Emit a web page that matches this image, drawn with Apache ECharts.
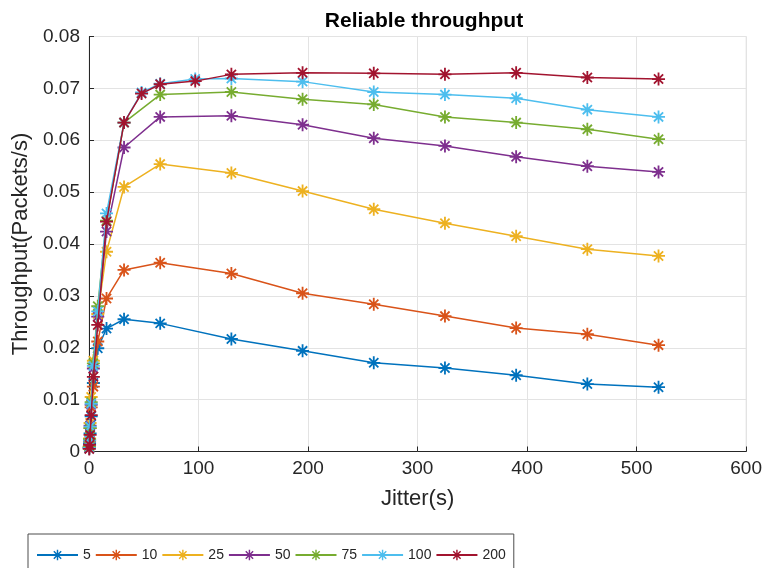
<!DOCTYPE html>
<html>
<head>
<meta charset="utf-8">
<title>Reliable throughput</title>
<script src="https://cdn.jsdelivr.net/npm/echarts@6/dist/echarts.min.js"></script>
<style>
  html, body { margin: 0; padding: 0; background: #fff; }
  #chart { width: 765px; height: 568px; }
</style>
</head>
<body>
<div id="chart"></div>
<script>
// Jitter values (s) sampled for each run
const jitterCoarse = [0.25, 0.5, 1, 2, 4, 8, 16, 32, 65, 130, 195, 260, 325, 390, 455, 520];
const jitterFine   = [0.25, 0.5, 1, 2, 4, 8, 16, 32, 48, 65, 97, 130, 195, 260, 325, 390, 455, 520];

// Legend names (window size)
const seriesNames = ['5', '10', '25', '50', '75', '100', '200'];

// Reliable throughput (packets/s)
const tp5   = [0.0006, 0.0016, 0.0035, 0.0068, 0.0132, 0.0199, 0.0237, 0.0255, 0.0247, 0.0217, 0.0194, 0.0171, 0.0161, 0.0147, 0.0130, 0.0124];
const tp10  = [0.0007, 0.0020, 0.0045, 0.0085, 0.0125, 0.0212, 0.0295, 0.0350, 0.0364, 0.0343, 0.0305, 0.0284, 0.0261, 0.0238, 0.0226, 0.0205];
const tp25  = [0.0009, 0.0025, 0.0055, 0.0105, 0.0175, 0.0265, 0.0385, 0.0510, 0.0554, 0.0537, 0.0502, 0.0467, 0.0440, 0.0415, 0.0390, 0.0377];
const tp50  = [0.0008, 0.0022, 0.0050, 0.0090, 0.0160, 0.0260, 0.0424, 0.0586, 0.0645, 0.0647, 0.0630, 0.0604, 0.0589, 0.0568, 0.0550, 0.0539];
const tp75  = [0.0010, 0.0024, 0.0045, 0.0095, 0.0170, 0.0280, 0.0445, 0.0634, 0.0688, 0.0693, 0.0679, 0.0669, 0.0645, 0.0634, 0.0621, 0.0602];
const tp100 = [0.0007, 0.0021, 0.0048, 0.0092, 0.0165, 0.0270, 0.0459, 0.0634, 0.0692, 0.0709, 0.0718, 0.0719, 0.0713, 0.0693, 0.0688, 0.0681, 0.0659, 0.0645];
const tp200 = [0.0005, 0.0013, 0.0032, 0.0070, 0.0144, 0.0244, 0.0443, 0.0634, 0.0690, 0.0708, 0.0714, 0.0727, 0.0730, 0.0729, 0.0727, 0.0730, 0.0721, 0.0718];

const seriesValues = [tp5, tp10, tp25, tp50, tp75, tp100, tp200];
const seriesJitter = [jitterCoarse, jitterCoarse, jitterCoarse, jitterCoarse, jitterCoarse, jitterFine, jitterFine];

// Axis ticks
const xTicks = { min: 0, max: 600, step: 100 };
const yTicks = { min: 0, max: 0.08, step: 0.01 };

const palette = ['#0072BD', '#D95319', '#EDB120', '#7E2F8E', '#77AC30', '#4DBEEE', '#A2142F'];

// Eight-armed asterisk marker
const asterisk = 'path://M-0.7,-5 L0.7,-5 L0.7,5 L-0.7,5 Z ' +
  'M-5,-0.7 L5,-0.7 L5,0.7 L-5,0.7 Z ' +
  'M-3.04,-4.03 L4.03,3.04 L3.04,4.03 L-4.03,-3.04 Z ' +
  'M3.04,-4.03 L4.03,-3.04 L-3.04,4.03 L-4.03,3.04 Z';

const axisColor = '#262626';
const gridColor = '#e3e3e3';
const font = 'Liberation Sans, Arial, Helvetica, sans-serif';

const series = seriesNames.map((name, i) => ({
  name: name,
  type: 'line',
  data: seriesJitter[i].map((x, k) => [x, seriesValues[i][k]]),
  symbol: asterisk,
  symbolSize: 13,
  showAllSymbol: true,
  lineStyle: { width: 1.5, color: palette[i] },
  itemStyle: { color: palette[i] },
  emphasis: { disabled: true },
  z: 2 + i
}));

const chart = echarts.init(document.getElementById('chart'), null, { renderer: 'canvas' });
chart.setOption({
  animation: false,
  backgroundColor: '#ffffff',
  title: {
    text: 'Reliable throughput',
    left: 419,
    top: 6,
    textAlign: 'center',
    textStyle: { fontFamily: font, fontSize: 21, fontWeight: 'bold', color: '#000' }
  },
  grid: {
    left: 89, right: 15, top: 36.5, bottom: 116.5,
    show: true, borderColor: gridColor, borderWidth: 1
  },
  legend: {
    data: seriesNames,
    left: 28,
    top: 534,
    orient: 'horizontal',
    itemWidth: 41,
    itemHeight: 13,
    itemGap: 4,
    padding: [14, 8, 14, 8],
    borderColor: '#4d4d4d',
    borderWidth: 1,
    backgroundColor: '#fff',
    textStyle: { fontFamily: font, fontSize: 14, color: axisColor }
  },
  xAxis: {
    type: 'value',
    min: xTicks.min, max: xTicks.max, interval: xTicks.step,
    name: 'Jitter(s)',
    nameLocation: 'middle',
    nameGap: 36,
    nameTextStyle: { fontFamily: font, fontSize: 22, color: axisColor },
    axisLine: { show: true, onZero: false, lineStyle: { color: axisColor, width: 1 } },
    axisTick: { show: true, inside: true, length: 5, lineStyle: { color: axisColor } },
    axisLabel: { fontFamily: font, fontSize: 19, color: axisColor, margin: 8 },
    splitLine: { show: true, lineStyle: { color: gridColor, width: 1 } }
  },
  yAxis: {
    type: 'value',
    min: yTicks.min, max: yTicks.max, interval: yTicks.step,
    name: 'Throughput(Packets/s)',
    nameLocation: 'middle',
    nameGap: 52,
    nameTextStyle: { fontFamily: font, fontSize: 22, color: axisColor },
    axisLine: { show: true, lineStyle: { color: axisColor, width: 1 } },
    axisTick: { show: true, inside: true, length: 5, lineStyle: { color: axisColor } },
    axisLabel: {
      fontFamily: font, fontSize: 19, color: axisColor, margin: 9,
      formatter: v => (v === 0 ? '0' : v.toFixed(2))
    },
    splitLine: { show: true, lineStyle: { color: gridColor, width: 1 } }
  },
  series: series
});
</script>
</body>
</html>
